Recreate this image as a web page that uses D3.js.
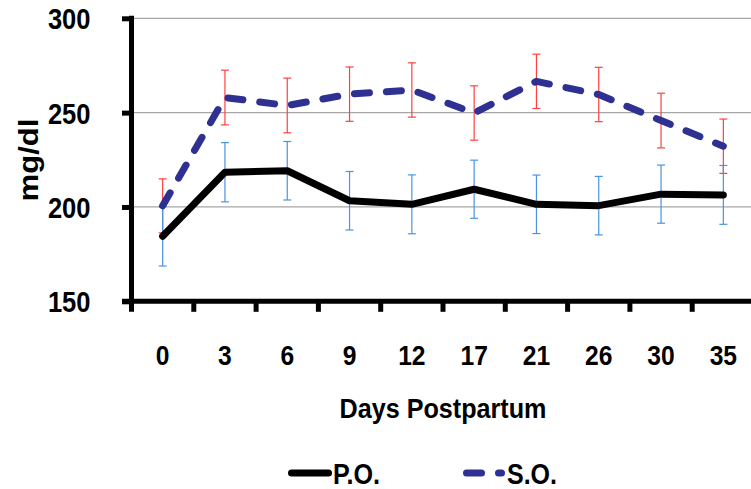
<!DOCTYPE html>
<html>
<head>
<meta charset="utf-8">
<script src="https://cdn.jsdelivr.net/npm/d3@7"></script>
<style>
  html, body { margin: 0; padding: 0; background: #fff; }
  svg { display: block; }
  text { font-family: "Liberation Sans", Arial, sans-serif; font-weight: bold; fill: #000; }
</style>
</head>
<body>
<svg id="chart" width="751" height="489"></svg>
<script>
// Days postpartum (category axis)
const days = ["0", "3", "6", "9", "12", "17", "21", "26", "30", "35"];

// Mean concentration, mg/dl
const poMean = [184.5, 218.4, 219.2, 203.3, 201.4, 209.4, 201.4, 200.7, 206.8, 206.4];
const soMean = [200.6, 258.0, 253.8, 259.8, 262.0, 249.8, 266.6, 259.6, 245.8, 232.2];

// Error (± one standard error)
const poErr = [15.8, 15.7, 15.5, 15.5, 15.6, 15.4, 15.5, 15.5, 15.4, 15.6];
const soErr = [14.3, 14.5, 14.5, 14.4, 14.4, 14.4, 14.4, 14.4, 14.5, 14.4];

const yTicks = [150, 200, 250, 300];

const seriesNames = ["P.O.", "S.O."];

const svg = d3.select("#chart");

const plotLeft = 131.5, plotTop = 18.3, plotBottom = 301.3, bandW = 62.3;

const x = d3.scaleBand()
  .domain(days)
  .range([plotLeft, plotLeft + bandW * days.length])
  .padding(0);

const y = d3.scaleLinear()
  .domain([150, 300])
  .range([plotBottom, plotTop]);

const cx = d => x(d) + x.bandwidth() / 2;

// Narrow the bold face horizontally so the labels keep a condensed look
function condense(sel, factor) {
  sel.each(function () {
    const w = this.getComputedTextLength();
    d3.select(this).attr("textLength", w * factor).attr("lengthAdjust", "spacingAndGlyphs");
  });
}

// Horizontal gridlines
svg.append("g")
  .selectAll("line")
  .data(yTicks.filter(v => v > 150))
  .join("line")
  .attr("x1", plotLeft)
  .attr("x2", 751)
  .attr("y1", d => y(d))
  .attr("y2", d => y(d))
  .attr("stroke", "#a6a6a6")
  .attr("stroke-width", 1.3);

// Error bars
function errorBars(mean, err, color) {
  const g = svg.append("g").attr("stroke", color).attr("stroke-width", 1.2).attr("fill", "none");
  days.forEach((d, i) => {
    const px = cx(d);
    const hi = y(mean[i] + err[i]);
    const lo = y(mean[i] - err[i]);
    g.append("line").attr("x1", px).attr("x2", px).attr("y1", hi).attr("y2", lo);
    g.append("line").attr("x1", px - 4).attr("x2", px + 4).attr("y1", hi).attr("y2", hi);
    g.append("line").attr("x1", px - 4).attr("x2", px + 4).attr("y1", lo).attr("y2", lo);
  });
}
errorBars(soMean, soErr, "#ff4040");
errorBars(poMean, poErr, "#4a94e0");

// Series lines
const line = d3.line()
  .x((v, i) => cx(days[i]))
  .y(v => y(v));

svg.append("path")
  .datum(poMean)
  .attr("d", line)
  .attr("fill", "none")
  .attr("stroke", "#000")
  .attr("stroke-width", 7)
  .attr("stroke-linejoin", "round")
  .attr("stroke-linecap", "round");

svg.append("path")
  .datum(soMean)
  .attr("d", line)
  .attr("fill", "none")
  .attr("stroke", "#2e3192")
  .attr("stroke-width", 7)
  .attr("stroke-linejoin", "round")
  .attr("stroke-linecap", "round")
  .attr("stroke-dasharray", "15,17");

// Y axis
const yAxis = d3.axisLeft(y).tickValues(yTicks).tickSize(9.5).tickPadding(31.5).tickSizeOuter(0);
const gy = svg.append("g").attr("transform", `translate(${plotLeft},0)`).call(yAxis);
gy.select(".domain").remove();
gy.selectAll(".tick line").attr("stroke", "#000").attr("stroke-width", 5);
gy.selectAll(".tick text").attr("font-size", 29).attr("dy", "0.36em")
  .attr("font-family", null).attr("fill", "#000");
condense(gy.selectAll(".tick text"), 0.88);
svg.append("line")
  .attr("x1", plotLeft).attr("x2", plotLeft)
  .attr("y1", y(300) - 2.5).attr("y2", plotBottom + 10.5)
  .attr("stroke", "#000").attr("stroke-width", 5);

// X axis: labels at band centres, tick marks at band boundaries
const xAxis = d3.axisBottom(x).tickSize(0).tickPadding(64);
const gx = svg.append("g").attr("transform", `translate(0,${plotBottom})`).call(xAxis);
gx.select(".domain").remove();
gx.selectAll(".tick text").attr("font-size", 28).attr("dy", "0")
  .attr("font-family", null).attr("fill", "#000");
condense(gx.selectAll(".tick text"), 0.88);
svg.append("line")
  .attr("x1", plotLeft - 9.5).attr("x2", 751)
  .attr("y1", plotBottom).attr("y2", plotBottom)
  .attr("stroke", "#000").attr("stroke-width", 5);
svg.append("g")
  .selectAll("line")
  .data(days.slice(1))
  .join("line")
  .attr("x1", d => x(d)).attr("x2", d => x(d))
  .attr("y1", plotBottom).attr("y2", plotBottom + 10.5)
  .attr("stroke", "#000").attr("stroke-width", 5);

// Axis titles
svg.append("text")
  .attr("x", (plotLeft + plotLeft + bandW * days.length) / 2)
  .attr("y", 418)
  .attr("text-anchor", "middle")
  .attr("font-size", 28)
  .attr("textLength", 207)
  .attr("lengthAdjust", "spacingAndGlyphs")
  .text("Days Postpartum");

svg.append("text")
  .attr("transform", "translate(38,160) rotate(-90)")
  .attr("text-anchor", "middle")
  .attr("font-size", 28)
  .attr("textLength", 83)
  .attr("lengthAdjust", "spacingAndGlyphs")
  .text("mg/dl");

// Legend
const legend = svg.append("g");
legend.append("line")
  .attr("x1", 291.5).attr("x2", 328.5).attr("y1", 473).attr("y2", 473)
  .attr("stroke", "#000").attr("stroke-width", 7).attr("stroke-linecap", "round");
legend.append("text").attr("x", 333).attr("y", 484).attr("font-size", 29)
  .attr("textLength", 47).attr("lengthAdjust", "spacingAndGlyphs").text(seriesNames[0]);
legend.append("line")
  .attr("x1", 466.5).attr("x2", 501.5).attr("y1", 473).attr("y2", 473)
  .attr("stroke", "#2e3192").attr("stroke-width", 7).attr("stroke-linecap", "round")
  .attr("stroke-dasharray", "15,17");
legend.append("text").attr("x", 507).attr("y", 484).attr("font-size", 29)
  .attr("textLength", 50).attr("lengthAdjust", "spacingAndGlyphs").text(seriesNames[1]);
</script>
</body>
</html>
